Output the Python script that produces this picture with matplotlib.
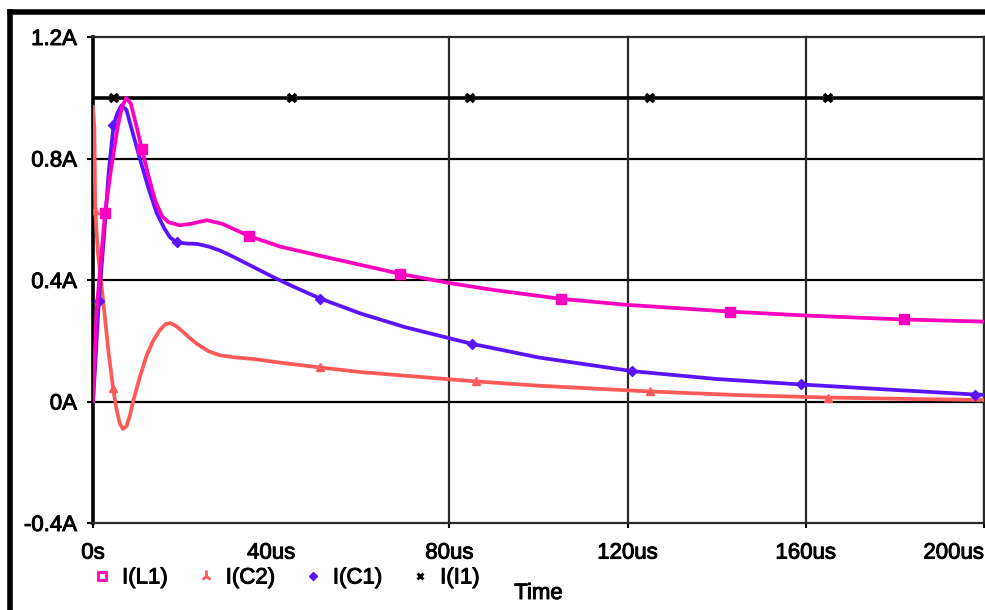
import numpy as np
import matplotlib
matplotlib.use("Agg")
import matplotlib.pyplot as plt
import matplotlib.patheffects as pe
from matplotlib.lines import Line2D

plt.rcParams['font.family'] = ['Liberation Sans', 'DejaVu Sans']

# time axis in microseconds, currents in amps
t_l1 = [0, 0.8, 2.7, 4, 5.5, 6.5, 7.5, 8.5, 9.7, 11, 12.5, 14, 15.5, 17, 19.5,
        22, 25.5, 29, 35, 42, 50, 60, 69, 80, 90, 105, 120, 143, 160, 182, 200]
i_l1 = [0.0, 0.30, 0.62, 0.76, 0.90, 0.97, 1.00, 0.98, 0.91, 0.83, 0.74, 0.66,
        0.61, 0.59, 0.58, 0.585, 0.597, 0.585, 0.545, 0.51, 0.483, 0.45, 0.42,
        0.39, 0.367, 0.338, 0.318, 0.296, 0.283, 0.27, 0.263]
mark_l1 = [2.7, 11, 35, 69, 105, 143, 182]

t_c2 = [0, 0.3, 0.5, 1.1, 2.3, 3.5, 4.5, 5.2, 6, 6.7, 7.5, 8.3, 9, 10.5, 12,
        13.5, 15, 16.3, 17.3, 18.5, 20, 21.5, 23.3, 26, 28.5, 32, 36, 42, 51,
        60, 70, 86, 100, 125, 145, 165, 185, 200]
i_c2 = [0.97, 0.90, 0.63, 0.49, 0.33, 0.16, 0.045, -0.02, -0.072, -0.09,
        -0.082, -0.045, 0.0, 0.08, 0.15, 0.20, 0.235, 0.255, 0.258, 0.25,
        0.232, 0.212, 0.19, 0.165, 0.152, 0.145, 0.14, 0.128, 0.112, 0.097,
        0.085, 0.066, 0.052, 0.033, 0.021, 0.013, 0.008, 0.005]
mark_c2 = [0.5, 4.5, 51, 86, 125, 165]

t_c1 = [0, 0.5, 1.3, 2.5, 3.5, 4.6, 5.5, 6.4, 7.5, 9, 10.9, 12.5, 14.3, 16,
        17.3, 18.8, 21, 23.3, 26, 28.5, 31, 34.5, 40.4, 45, 51, 60, 70, 85,
        100, 121, 140, 159, 180, 198, 200]
i_c1 = [0.0, 0.12, 0.33, 0.55, 0.75, 0.91, 0.95, 0.975, 0.96, 0.88, 0.78, 0.70,
        0.62, 0.57, 0.54, 0.524, 0.52, 0.519, 0.51, 0.497, 0.48, 0.454, 0.41,
        0.378, 0.339, 0.29, 0.245, 0.19, 0.145, 0.10, 0.074, 0.056, 0.038,
        0.023, 0.022]
mark_c1 = [1.3, 4.6, 18.8, 51, 85, 121, 159, 198]

t_i1 = [0, 4.7, 44.7, 84.6, 125, 165, 200]
i_i1 = [1.0, 1.0, 1.0, 1.0, 1.0, 1.0, 1.0]
mark_i1 = [4.7, 44.7, 84.6, 125, 165]

x_ticks = [0, 40, 80, 120, 160, 200]
x_labels = ['0s', '40us', '80us', '120us', '160us', '200us']
x_grid = [80, 120, 160, 200]
y_ticks = [-0.4, 0, 0.4, 0.8, 1.2]
y_labels = ['-0.4A', '0A', '0.4A', '0.8A', '1.2A']

MAGENTA = '#ff00c0'
RED = '#ff5a5a'
BLUE = '#5a14ff'
FS = 16
heavy = [pe.withStroke(linewidth=0.7, foreground='black')]


def idx(ts, marks):
    return [ts.index(m) for m in marks]


fig = plt.figure(figsize=(9.85, 6.1), dpi=100)
ax = fig.add_axes([93 / 985, 1 - 523 / 610, 891 / 985, 486 / 610])

ax.set_xlim(0, 200)
ax.set_ylim(-0.4, 1.2)

for y in y_ticks[1:-1]:
    ax.axhline(y, color='black', lw=1.6, zorder=1)
for x in x_grid:
    ax.axvline(x, color='#2a2a2a', lw=1.6, zorder=1, clip_on=False)

ax.plot(t_i1, i_i1, color='black', lw=2.6, marker='x', ms=6, mew=2.6,
        markevery=idx(t_i1, mark_i1), zorder=2)
ax.plot(t_c2, i_c2, color=RED, lw=2.7, marker='^', ms=6,
        markevery=idx(t_c2, mark_c2), zorder=3)
ax.plot(t_c1, i_c1, color=BLUE, lw=2.7, marker='D', ms=5.5,
        markevery=idx(t_c1, mark_c1), zorder=4)
ax.plot(t_l1, i_l1, color=MAGENTA, lw=2.7, marker='s', ms=6.5,
        markevery=idx(t_l1, mark_l1), zorder=5)

for side in ['top', 'right', 'bottom']:
    ax.spines[side].set_linewidth(1.6)
    ax.spines[side].set_color('#2a2a2a')
ax.spines['left'].set_linewidth(2.6)
ax.spines['left'].set_color('black')

ax.set_xticks(x_ticks)
ax.set_xticklabels(x_labels, fontsize=FS, path_effects=heavy)
ax.set_yticks(y_ticks)
ax.set_yticklabels(y_labels, fontsize=FS, path_effects=heavy)
ax.tick_params(axis='x', direction='out', length=3.6, width=1.5, pad=10.5)
ax.tick_params(axis='y', direction='out', length=4.5, width=1.5, pad=7)
ax.xaxis.get_major_ticks()[1].tick1line.set_visible(False)
ax.get_xticklabels()[-1].set_ha('right')

ax.set_xlabel('Time', fontsize=FS, path_effects=heavy)
ax.xaxis.set_label_coords(0.5, -60 / 486)
ax.xaxis.label.set_va('top')

handles = [
    Line2D([], [], ls='none', marker='s', ms=6, mfc='none', mec=MAGENTA, mew=2),
    Line2D([], [], ls='none', marker='2', ms=8, color=RED, mew=2),
    Line2D([], [], ls='none', marker='D', ms=4.5, color=BLUE),
    Line2D([], [], ls='none', marker='x', ms=5, color='black', mew=2),
]
leg = fig.legend(handles, ['I(L1)', 'I(C2)', 'I(C1)', 'I(I1)'], ncol=4,
                 loc='center left', bbox_to_anchor=(96.5 / 985, 1 - 578 / 610),
                 frameon=False, fontsize=FS, handlelength=0.5,
                 handletextpad=0.65, columnspacing=1.45, borderpad=0,
                 borderaxespad=0)
for txt in leg.get_texts():
    txt.set_path_effects(heavy)

# black frame on the top and left of the picture
fig.add_artist(Line2D([10 / 985, 1], [1 - 12 / 610, 1 - 12 / 610],
                      transform=fig.transFigure, color='black', lw=4))
fig.add_artist(Line2D([10 / 985, 10 / 985], [0, 1 - 12 / 610],
                      transform=fig.transFigure, color='black', lw=4))

fig.savefig('out.png', dpi=100)
